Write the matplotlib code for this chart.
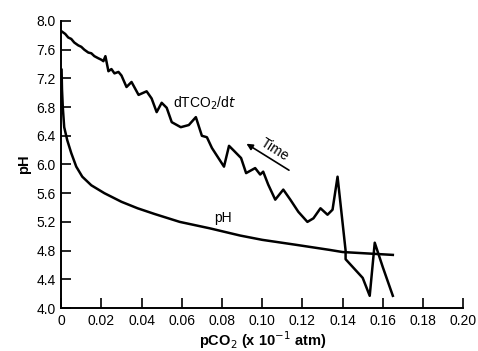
import matplotlib
matplotlib.use("Agg")
import matplotlib.pyplot as plt

# pH curve vs pCO2
pco2_ph = [0.0002, 0.0004, 0.0008, 0.0015, 0.003, 0.005, 0.0075, 0.0105, 0.015, 0.0215,
           0.030, 0.038, 0.0465, 0.059, 0.074, 0.089, 0.100, 0.117, 0.1335, 0.140, 0.165]
ph_vals = [7.32, 7.05, 6.80, 6.52, 6.34, 6.16, 5.97, 5.83, 5.71, 5.60,
           5.48, 5.39, 5.31, 5.20, 5.11, 5.01, 4.95, 4.88, 4.81, 4.78, 4.74]

# dTCO2/dt curve (trace)
pco2_dt = [0.0, 0.002, 0.0035, 0.005, 0.0065, 0.0085, 0.010, 0.0115, 0.0135, 0.015,
           0.0165, 0.0185, 0.020, 0.021, 0.022, 0.0235, 0.025, 0.0265, 0.0285, 0.030,
           0.0325, 0.035, 0.0385, 0.0425, 0.045, 0.0475, 0.050, 0.0525, 0.055, 0.0595,
           0.0635, 0.067, 0.070, 0.0725, 0.075, 0.081, 0.0835, 0.086, 0.0895, 0.092,
           0.0965, 0.099, 0.1005, 0.103, 0.1065, 0.1105, 0.114, 0.118, 0.1225, 0.1255,
           0.129, 0.1325, 0.135, 0.1375, 0.1415, 0.1415, 0.150, 0.1535, 0.156, 0.160, 0.165]
dt_vals = [7.86, 7.82, 7.77, 7.75, 7.70, 7.66, 7.64, 7.60, 7.56, 7.55,
           7.51, 7.48, 7.46, 7.44, 7.51, 7.30, 7.33, 7.27, 7.29, 7.24,
           7.08, 7.15, 6.97, 7.02, 6.92, 6.73, 6.86, 6.79, 6.59, 6.52,
           6.55, 6.66, 6.40, 6.38, 6.23, 5.97, 6.26, 6.19, 6.09, 5.88,
           5.95, 5.86, 5.90, 5.72, 5.51, 5.65, 5.51, 5.34, 5.20, 5.25,
           5.39, 5.30, 5.37, 5.83, 4.80, 4.68, 4.42, 4.17, 4.91, 4.57, 4.17]

xticks = [0, 0.02, 0.04, 0.06, 0.08, 0.10, 0.12, 0.14, 0.16, 0.18, 0.20]
xlabels = ["0", "0.02", "0.04", "0.06", "0.08", "0.10", "0.12", "0.14", "0.16", "0.18", "0.20"]
yticks = [4.0, 4.4, 4.8, 5.2, 5.6, 6.0, 6.4, 6.8, 7.2, 7.6, 8.0]
ylabels = ["4.0", "4.4", "4.8", "5.2", "5.6", "6.0", "6.4", "6.8", "7.2", "7.6", "8.0"]

plt.rcParams['font.family'] = ['Liberation Sans', 'DejaVu Sans']

fig = plt.figure(figsize=(4.78, 3.51), dpi=100)
ax = fig.add_axes([0.128, 0.1225, 0.841, 0.8177])

ax.plot(pco2_ph, ph_vals, color='black', lw=1.8)
ax.plot(pco2_dt, dt_vals, color='black', lw=1.8)

ax.set_xlim(0, 0.20)
ax.set_ylim(4.0, 8.0)
ax.set_xticks(xticks)
ax.set_xticklabels(xlabels)
ax.set_yticks(yticks)
ax.set_yticklabels(ylabels)
ax.tick_params(direction='in', length=7, width=1.2, labelsize=10, pad=4)
for s in ['top', 'right']:
    ax.spines[s].set_visible(False)
for s in ['left', 'bottom']:
    ax.spines[s].set_linewidth(1.4)

ax.set_xlabel(r'pCO$_2$ (x 10$^{-1}$ atm)', fontsize=10.5, fontweight='bold', labelpad=1)
ax.set_ylabel('pH', fontsize=10.5, fontweight='bold', labelpad=4)

ax.text(0.0715, 6.85, r'dTCO$_2$/d$t$', fontsize=10, ha='center', va='center')
ax.text(0.0805, 5.26, 'pH', fontsize=10, ha='center', va='center')
ax.annotate('', xy=(0.091, 6.31), xytext=(0.1145, 5.90),
            arrowprops=dict(arrowstyle='-|>', color='black', lw=1.2, mutation_scale=9))
ax.text(0.1065, 6.21, 'Time', fontsize=10, ha='center', va='center', rotation=-32)

fig.savefig('out.png', dpi=100)
